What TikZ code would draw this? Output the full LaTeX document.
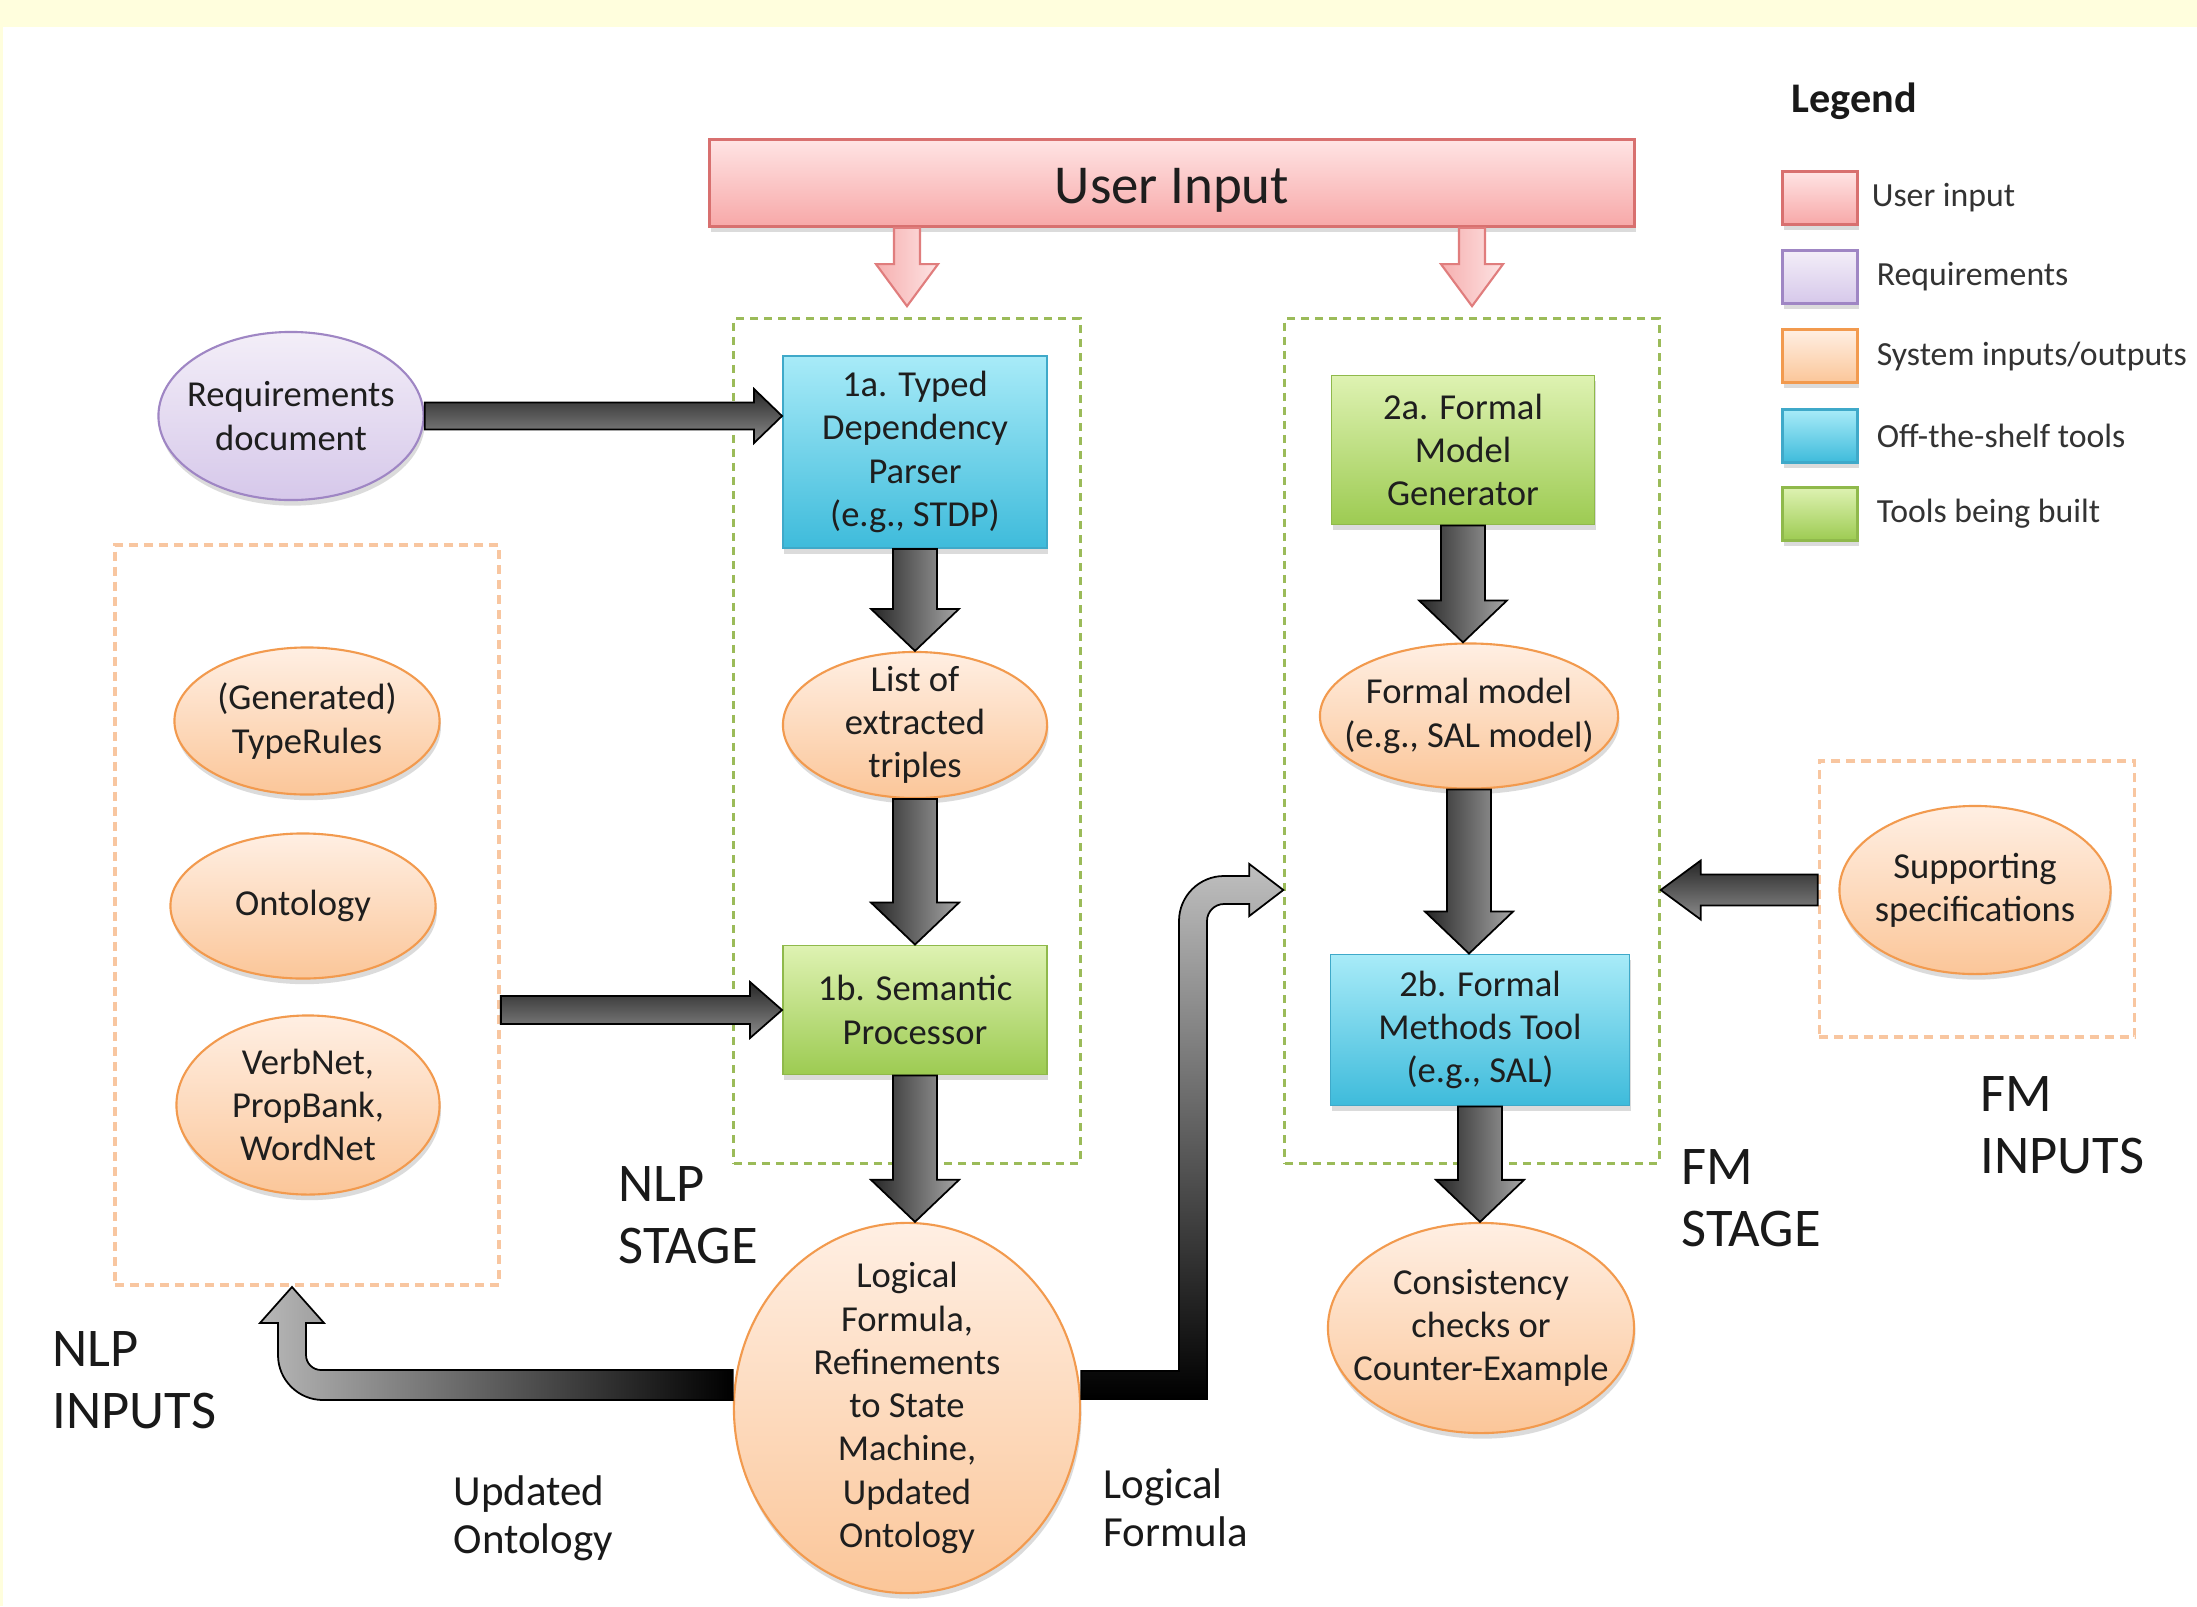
\documentclass[tikz,border=0pt]{standalone}
\usepackage{fontspec}
\setmainfont{Carlito}
\usetikzlibrary{positioning,shapes.geometric,shadows,calc}

\definecolor{bandY}{HTML}{FFFEDD}
\definecolor{uiTop}{HTML}{FFE4E4}
\definecolor{uiBot}{HTML}{F7A8A8}
\definecolor{uiLine}{HTML}{D8706F}
\definecolor{rqTop}{HTML}{F3EEF8}
\definecolor{rqBot}{HTML}{D6C8EA}
\definecolor{rqLine}{HTML}{9F86C4}
\definecolor{ioTop}{HTML}{FFEFE3}
\definecolor{ioBot}{HTML}{FBC699}
\definecolor{ioLine}{HTML}{F29A4E}
\definecolor{ofTop}{HTML}{A8EBF8}
\definecolor{ofBot}{HTML}{3EBBDB}
\definecolor{ofLine}{HTML}{3FA9C9}
\definecolor{tbTop}{HTML}{DEF2B2}
\definecolor{tbBot}{HTML}{9DCB52}
\definecolor{tbLine}{HTML}{8FB94B}
\definecolor{nlpDash}{HTML}{9BBB59}
\definecolor{inDash}{HTML}{F8C6A0}
\definecolor{txt}{HTML}{1E1E1E}
\definecolor{pkL}{HTML}{F6AFAF}
\definecolor{pkR}{HTML}{FDE3E3}
\definecolor{pkLine}{HTML}{E07D7D}

\tikzset{
  shdw/.style={drop shadow={opacity=0.28, shadow xshift=0.4pt, shadow yshift=-1.6pt}},
  boxtext/.style={font=\fontsize{10.4}{12.3}\selectfont, text=txt, align=center},
  userbox/.style={rectangle, draw=uiLine, line width=0.8pt, top color=uiTop, bottom color=uiBot, shdw},
  offshelf/.style={rectangle, draw=ofLine, line width=0.5pt, top color=ofTop, bottom color=ofBot, shdw, boxtext, inner sep=2pt},
  building/.style={rectangle, draw=tbLine, line width=0.5pt, top color=tbTop, bottom color=tbBot, shdw, boxtext, inner sep=2pt},
  sysio/.style={ellipse, draw=ioLine, line width=0.6pt, top color=ioTop, bottom color=ioBot, shdw, boxtext, inner xsep=-0.3cm, inner ysep=-0.25cm},
  reqdoc/.style={ellipse, draw=rqLine, line width=0.6pt, top color=rqTop, bottom color=rqBot, shdw, boxtext, inner xsep=-0.3cm, inner ysep=-0.25cm},
  stagebox/.style={rectangle, draw=nlpDash, line width=0.9pt, dash pattern=on 0.08cm off 0.06cm},
  inbox/.style={rectangle, draw=inDash, line width=1pt, dash pattern=on 0.09cm off 0.06cm},
  biglabel/.style={font=\fontsize{15.5}{17.6}\selectfont, text=black!90, align=left, inner sep=0, anchor=north west},
  smalllabel/.style={font=\fontsize{12.2}{13.7}\selectfont, text=black!90, align=left, inner sep=0, anchor=north west},
  darkv/.style={left color=black!85, right color=black!35, draw=black, line width=0.5pt},
  darkh/.style={top color=black!85, bottom color=black!45, draw=black, line width=0.5pt},
  pinkv/.style={left color=pkL, right color=pkR, draw=pkLine, line width=0.6pt},
  swatch/.style={rectangle, minimum width=0.75cm, minimum height=0.53cm, inner sep=0, line width=0.9pt, shdw},
  legtext/.style={font=\fontsize{9.6}{11}\selectfont, text=black!80, inner sep=0}
}

% block arrows: style, start, tip, shaft half width, head half width, head length (cm)
\newcommand\blkdown[6]{%
  \shade[#1] let \p1=(#2), \p2=(#3) in
    (\x1-#4cm,\y1) -- (\x1+#4cm,\y1) -- (\x1+#4cm,\y2+#6cm) -- (\x1+#5cm,\y2+#6cm)
    -- (\x1,\y2) -- (\x1-#5cm,\y2+#6cm) -- (\x1-#4cm,\y2+#6cm) -- cycle;}
\newcommand\blkright[6]{%
  \shade[#1] let \p1=(#2), \p2=(#3) in
    (\x1,\y1+#4cm) -- (\x2-#6cm,\y1+#4cm) -- (\x2-#6cm,\y1+#5cm) -- (\x2,\y1)
    -- (\x2-#6cm,\y1-#5cm) -- (\x2-#6cm,\y1-#4cm) -- (\x1,\y1-#4cm) -- cycle;}
\newcommand\blkleft[6]{%
  \shade[#1] let \p1=(#2), \p2=(#3) in
    (\x1,\y1+#4cm) -- (\x2+#6cm,\y1+#4cm) -- (\x2+#6cm,\y1+#5cm) -- (\x2,\y1)
    -- (\x2+#6cm,\y1-#5cm) -- (\x2+#6cm,\y1-#4cm) -- (\x1,\y1-#4cm) -- cycle;}

\begin{document}
\begin{tikzpicture}[x=0.01cm, y=-0.01cm]
    \useasboundingbox (0,0) rectangle (2197,1606);
    \fill[white] (0,0) rectangle (2197,1606);
    \fill[bandY] (0,0) rectangle (2197,27);
    \fill[bandY] (0,0) rectangle (3,1606);

    %% user input and the two stages
    \node[userbox, minimum width=9.25cm, minimum height=0.87cm, font=\fontsize{15.6}{18}\selectfont, text=txt,
          text height=14pt, text depth=2.6pt] (UI) at (1172,183) {User Input};

    \node[stagebox, minimum width=3.46cm, minimum height=8.44cm] (NS) at (907,741) {};
    \node[stagebox, minimum width=3.74cm, minimum height=8.44cm] (FS) at (1472,741) {};
    \node[inbox,    minimum width=3.84cm, minimum height=7.40cm] (NI) at (307,915) {};
    \node[inbox,    minimum width=3.15cm, minimum height=2.76cm] (FI) at (1977,899) {};

    %% NLP column
    \node[offshelf, minimum width=2.64cm, minimum height=1.92cm] (P1a) at (915,452)  {1a. Typed\\Dependency\\Parser\\(e.g., STDP)};
    \node[sysio,    minimum width=2.64cm, minimum height=1.46cm] (TR)  at (915,725)  {List of\\extracted\\triples};
    \node[building, minimum width=2.64cm, minimum height=1.29cm] (P1b) at (915,1010) {1b. Semantic\\Processor};
    \node[sysio,    minimum width=3.46cm, minimum height=3.70cm] (LF)  at (907,1408) {Logical\\Formula,\\Refinements\\to State\\Machine,\\Updated\\Ontology};

    %% FM column
    \node[building, minimum width=2.63cm, minimum height=1.49cm] (P2a) at (1463,450)  {2a. Formal\\Model\\Generator};
    \node[sysio,    minimum width=2.98cm, minimum height=1.45cm] (FM)  at (1469,716)  {Formal model\\(e.g., SAL model)};
    \node[offshelf, minimum width=2.99cm, minimum height=1.51cm] (P2b) at (1480,1030) {2b. Formal\\Methods Tool\\(e.g., SAL)};
    \node[sysio,    minimum width=3.06cm, minimum height=2.10cm] (CC)  at (1481,1328) {Consistency\\checks or\\Counter-Example};

    %% inputs
    \node[reqdoc, minimum width=2.65cm, minimum height=1.68cm] (RD) at (291,416)  {Requirements\\document};
    \node[sysio,  minimum width=2.65cm, minimum height=1.47cm] (TY) at (307,721)  {(Generated)\\TypeRules};
    \node[sysio,  minimum width=2.65cm, minimum height=1.45cm] (ON) at (303,906)  {Ontology};
    \node[sysio,  minimum width=2.63cm, minimum height=1.79cm] (VB) at (308,1105) {VerbNet,\\PropBank,\\WordNet};
    \node[sysio,  minimum width=2.71cm, minimum height=1.68cm] (SS) at (1975,890)  {Supporting\\specifications};

    %% labels
    \node[biglabel] (LNS) at (618,1166)  {NLP\\STAGE};
    \node[biglabel] (LFS) at (1681,1149) {FM\\STAGE};
    \node[biglabel] (LFI) at (1980,1076) {FM\\INPUTS};
    \node[biglabel] (LNI) at (52,1331)   {NLP\\INPUTS};
    \node[smalllabel] (LUO) at (453,1475)  {Updated\\Ontology};
    \node[smalllabel] (LLF) at (1103,1468) {Logical\\Formula};

    %% arrows
    \blkdown{pinkv}{UI.south -| NS.north}{$(NS.north)+(0,-11)$}{0.13}{0.31}{0.42}
    \blkdown{pinkv}{UI.south -| FS.north}{$(FS.north)+(0,-11)$}{0.13}{0.31}{0.42}

    \blkright{darkh}{RD.east}{RD.east -| P1a.west}{0.135}{0.27}{0.28}
    \blkright{darkh}{NI.east |- P1b.west}{P1b.west}{0.14}{0.28}{0.32}
    \blkleft{darkh}{FI.west |- SS.west}{FS.east |- SS.west}{0.155}{0.295}{0.40}

    \blkdown{darkv}{P1a.south}{P1a.south |- TR.north}{0.22}{0.44}{0.42}
    \blkdown{darkv}{TR.south}{TR.south |- P1b.north}{0.22}{0.44}{0.42}
    \blkdown{darkv}{P1b.south}{P1b.south |- LF.north}{0.22}{0.44}{0.42}
    \blkdown{darkv}{P2a.south}{P2a.south |- FM.north}{0.22}{0.44}{0.42}
    \blkdown{darkv}{FM.south}{FM.south |- P2b.north}{0.22}{0.44}{0.42}
    \blkdown{darkv}{P2b.south}{P2b.south |- CC.north}{0.22}{0.44}{0.42}

    \coordinate (LFr) at ($(LF.east)+(0,-23)$);
    \coordinate (LFl) at ($(LF.west)+(0,-23)$);
    \coordinate (BR)  at (1193,890);
    \coordinate (BL)  at (292,1385);

    % logical formula to the FM stage
    \shade[top color=black!25, bottom color=black, draw=black, line width=0.5pt]
      let \p1=(LFr), \p2=(BR -| FS.west), \p3=(BR) in
      (\x1,\y1+0.14cm) -- (\x3-0.14cm,\y1+0.14cm) -- (\x3-0.14cm,\y2-0.31cm)
      arc[start angle=180, end angle=90, radius=0.45cm] -- (\x2-0.34cm,\y2+0.14cm)
      -- (\x2-0.34cm,\y2+0.26cm) -- (\x2,\y2) -- (\x2-0.34cm,\y2-0.26cm) -- (\x2-0.34cm,\y2-0.14cm)
      -- (\x3+0.31cm,\y2-0.14cm) arc[start angle=90, end angle=180, radius=0.17cm]
      -- (\x3+0.14cm,\y1-0.14cm) -- (\x1,\y1-0.14cm) -- cycle;

    % updated ontology back to the NLP inputs
    \shade[left color=black!28, right color=black, draw=black, line width=0.5pt]
      let \p1=(LFl), \p2=(BL |- NI.south), \p3=(BL) in
      (\x1,\y1+0.15cm) -- (\x3+0.29cm,\y1+0.15cm)
      arc[start angle=270, end angle=180, radius=0.15cm] -- (\x3+0.14cm,\y2-0.36cm)
      -- (\x3+0.32cm,\y2-0.36cm) -- (\x3,\y2) -- (\x3-0.32cm,\y2-0.36cm) -- (\x3-0.14cm,\y2-0.36cm)
      -- (\x3-0.14cm,\y1+0.30cm) arc[start angle=180, end angle=270, radius=0.45cm]
      -- (\x1,\y1-0.15cm) -- cycle;

    %% legend
    \node[font=\fontsize{12}{14}\selectfont\bfseries, text=black!90, inner sep=0, anchor=base west] (LG) at (1791,112) {Legend};
    \node[swatch, draw=uiLine, top color=uiTop, bottom color=uiBot] (L1) at (1820,198) {};
    \node[swatch, draw=rqLine, top color=rqTop, bottom color=rqBot] (L2) at (1820,277) {};
    \node[swatch, draw=ioLine, top color=ioTop, bottom color=ioBot] (L3) at (1820,356) {};
    \node[swatch, draw=ofLine, top color=ofTop, bottom color=ofBot] (L4) at (1820,436) {};
    \node[swatch, draw=tbLine, top color=tbTop, bottom color=tbBot] (L5) at (1820,514) {};
    \node[legtext, right=0.12cm of L1] {User input};
    \node[legtext, right=0.17cm of L2] {Requirements};
    \node[legtext, right=0.17cm of L3] {System inputs/outputs};
    \node[legtext, right=0.17cm of L4] {Off-the-shelf tools};
    \node[legtext, right=0.17cm of L5] {Tools being built};
\end{tikzpicture}
\end{document}
